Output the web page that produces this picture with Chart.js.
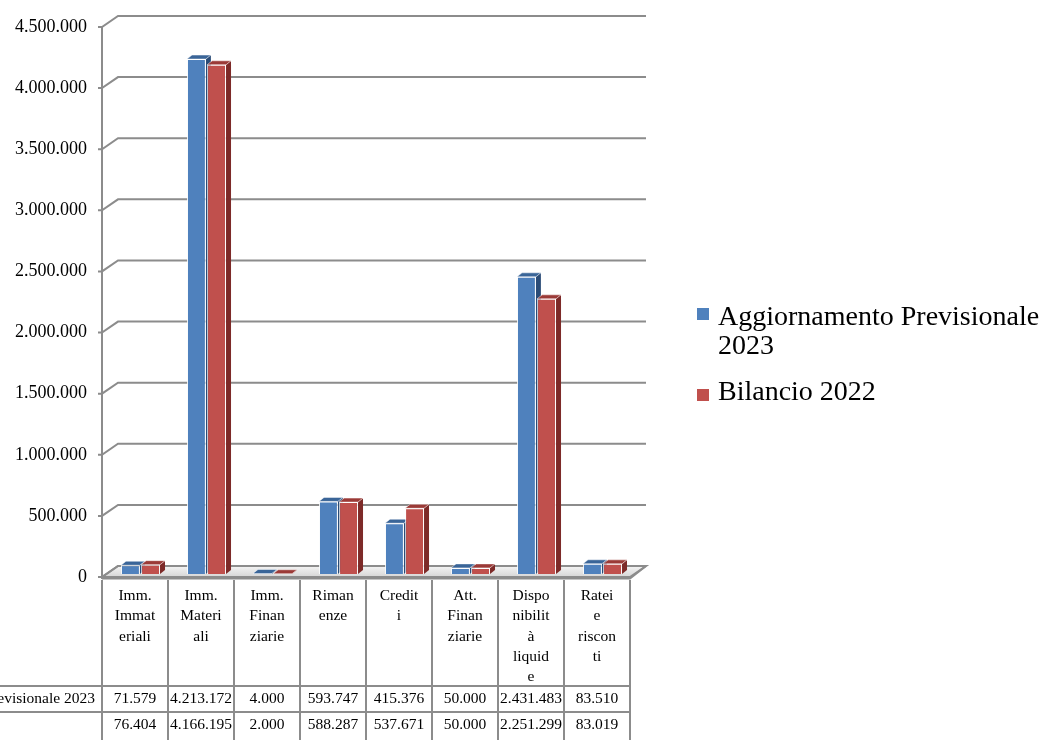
<!DOCTYPE html>
<html>
<head>
<meta charset="utf-8">
<script src="https://cdn.jsdelivr.net/npm/chart.js@4.4.1/dist/chart.umd.min.js"></script>
<style>
  html, body { margin: 0; padding: 0; background: #fff; }
  #wrap { width: 1061px; height: 740px; position: relative; }
</style>
</head>
<body>
<div id="wrap"><canvas id="myChart"></canvas></div>
<script>
// categories, as they are wrapped in the data table
var categories = [
  ['Imm.', 'Immat', 'eriali'],
  ['Imm.', 'Materi', 'ali'],
  ['Imm.', 'Finan', 'ziarie'],
  ['Riman', 'enze'],
  ['Credit', 'i'],
  ['Att.', 'Finan', 'ziarie'],
  ['Dispo', 'nibilit', 'à', 'liquid', 'e'],
  ['Ratei', 'e', 'riscon', 'ti']
];
var seriesNames = ['Aggiornamento Previsionale 2023', 'Bilancio 2022'];
var previsionale2023 = [71579, 4213172, 4000, 593747, 415376, 50000, 2431483, 83510];
var bilancio2022 = [76404, 4166195, 2000, 588287, 537671, 50000, 2251299, 83019];
var yTicks = [0, 500000, 1000000, 1500000, 2000000, 2500000, 3000000, 3500000, 4000000, 4500000];

var FONT = '"Liberation Serif", "Times New Roman", serif';
var GRID = '#8c8c8c';
var faces = [
  { front: '#4F81BD', top: '#3a6598', side: '#2b4c77' },
  { front: '#C0504D', top: '#9b3a37', side: '#7d2a28' }
];

function fmt(v) {
  return String(Math.round(v)).replace(/\B(?=(\d{3})+(?!\d))/g, '.');
}

// 3d frame: back wall gridlines, side diagonals, floor
var frame3d = {
  id: 'frame3d',
  beforeDatasetsDraw: function(chart) {
    var ctx = chart.ctx, a = chart.chartArea, ys = chart.scales.y;
    var dx = 16, dy = -11;
    ctx.save();
    ctx.strokeStyle = GRID;
    ctx.lineWidth = 2;
    // floor
    var y0 = ys.getPixelForValue(0);
    var g = ctx.createLinearGradient(0, y0 + dy, 0, y0);
    g.addColorStop(0, '#f4f4f4');
    g.addColorStop(1, '#d6d6d6');
    ctx.fillStyle = g;
    ctx.beginPath();
    ctx.moveTo(a.left, y0);
    ctx.lineTo(a.right, y0);
    ctx.lineTo(a.right + dx, y0 + dy);
    ctx.lineTo(a.left + dx, y0 + dy);
    ctx.closePath();
    ctx.fill();
    ctx.stroke();
    // gridlines
    yTicks.forEach(function(v) {
      var y = ys.getPixelForValue(v);
      ctx.beginPath();
      ctx.moveTo(a.left - 4, y);
      ctx.lineTo(a.left, y);
      ctx.lineTo(a.left + dx, y + dy);
      ctx.lineTo(a.right + dx, y + dy);
      ctx.stroke();
    });
    // front axis line
    ctx.beginPath();
    ctx.moveTo(a.left, ys.getPixelForValue(yTicks[yTicks.length - 1]));
    ctx.lineTo(a.left, y0 + 2);
    ctx.stroke();
    // thicker front edge of the floor
    ctx.beginPath();
    ctx.moveTo(a.left, y0 + 1.5);
    ctx.lineTo(a.right, y0 + 1.5);
    ctx.lineTo(a.right + dx, y0 + dy);
    ctx.stroke();
    ctx.restore();

    // bars sit a bit behind the front plane
    ctx.save();
    ctx.translate(5.5, -3);
    var bx = 5, by = -4;
    chart.data.datasets.forEach(function(ds, di) {
      var meta = chart.getDatasetMeta(di);
      meta.data.forEach(function(bar) {
        var p = bar.getProps(['x', 'y', 'base', 'width'], true);
        var x1 = p.x - p.width / 2, x2 = p.x + p.width / 2;
        ctx.fillStyle = faces[di].side;
        ctx.beginPath();
        ctx.moveTo(x2, p.y);
        ctx.lineTo(x2 + bx, p.y + by);
        ctx.lineTo(x2 + bx, p.base + by);
        ctx.lineTo(x2, p.base);
        ctx.closePath();
        ctx.fill();
        ctx.fillStyle = faces[di].top;
        ctx.beginPath();
        ctx.moveTo(x1, p.y);
        ctx.lineTo(x2, p.y);
        ctx.lineTo(x2 + bx, p.y + by);
        ctx.lineTo(x1 + bx, p.y + by);
        ctx.closePath();
        ctx.fill();
        ctx.strokeStyle = 'rgba(255,255,255,0.6)';
        ctx.lineWidth = 0.8;
        ctx.stroke();
      });
    });
  },
  afterDatasetsDraw: function(chart) {
    chart.ctx.restore();
  }
};

// data table under the chart
var dataTable = {
  id: 'dataTable',
  afterDraw: function(chart) {
    var ctx = chart.ctx, a = chart.chartArea, xs = chart.scales.x;
    var cw = a.width / categories.length;
    var top = 580, r1 = 686, r2 = 712;
    var rows = [previsionale2023, bilancio2022];
    ctx.save();
    ctx.strokeStyle = GRID;
    ctx.lineWidth = 2;
    for (var i = 0; i <= categories.length; i++) {
      var x = a.left + cw * i;
      ctx.beginPath();
      ctx.moveTo(x, top);
      ctx.lineTo(x, 740);
      ctx.stroke();
    }
    [r1, r2].forEach(function(y) {
      ctx.beginPath();
      ctx.moveTo(0, y);
      ctx.lineTo(a.right, y);
      ctx.stroke();
    });
    ctx.fillStyle = '#000';
    ctx.font = '15.5px ' + FONT;
    ctx.textAlign = 'center';
    ctx.textBaseline = 'middle';
    categories.forEach(function(lines, i) {
      var cx = xs.getPixelForValue(i);
      lines.forEach(function(t, k) {
        ctx.fillText(t, cx, 596 + k * 20.3);
      });
      ctx.fillText(fmt(rows[0][i]), cx, 699);
      ctx.fillText(fmt(rows[1][i]), cx, 725);
    });
    // series names, left part falls outside the picture
    ctx.textAlign = 'right';
    ctx.fillText(seriesNames[0], a.left - 7, 699);
    var start = a.left - 7 - ctx.measureText(seriesNames[0]).width;
    ctx.textAlign = 'left';
    ctx.fillText(seriesNames[1], start, 725);
    ctx.restore();
  }
};

// legend on the right, with word wrap
var sideLegend = {
  id: 'sideLegend',
  afterDraw: function(chart) {
    var ctx = chart.ctx;
    var lx = 697, tx = 718, maxW = 1061 - tx - 2;
    var base = 325, lh = 29;
    ctx.save();
    ctx.font = '28px ' + FONT;
    ctx.textBaseline = 'alphabetic';
    ctx.textAlign = 'left';
    chart.data.datasets.forEach(function(ds, di) {
      var words = ds.label.split(' '), lines = [], cur = '';
      words.forEach(function(w) {
        var t = cur ? cur + ' ' + w : w;
        if (ctx.measureText(t).width > maxW && cur) { lines.push(cur); cur = w; } else { cur = t; }
      });
      lines.push(cur);
      ctx.fillStyle = faces[di].front;
      ctx.fillRect(lx, base - (lines.length > 1 ? 17 : 11), 12, 12);
      ctx.fillStyle = '#000';
      lines.forEach(function(t, k) {
        ctx.fillText(t, tx, base + k * lh);
      });
      base += lines.length * lh + 17;
    });
    ctx.restore();
  }
};

document.addEventListener("DOMContentLoaded", function() {
  var canvas = document.getElementById('myChart');
  new Chart(canvas, {
    type: 'bar',
    data: {
      labels: categories,
      datasets: [{
        label: seriesNames[0],
        data: previsionale2023,
        backgroundColor: faces[0].front,
        borderColor: 'rgba(255,255,255,0.85)',
        borderWidth: 1
      }, {
        label: seriesNames[1],
        data: bilancio2022,
        backgroundColor: faces[1].front,
        borderColor: 'rgba(255,255,255,0.85)',
        borderWidth: 1
      }]
    },
    options: {
      responsive: true,
      maintainAspectRatio: false,
      animation: false,
      categoryPercentage: 0.61,
      barPercentage: 0.94,
      layout: { padding: { left: 0, right: 431, top: 27, bottom: 163 } },
      plugins: {
        legend: { display: false },
        tooltip: { enabled: false }
      },
      scales: {
        x: { display: false },
        y: {
          min: 0,
          max: 4500000,
          afterFit: function(s) { s.width = 102; },
          afterBuildTicks: function(s) { s.ticks = yTicks.map(function(v) { return { value: v }; }); },
          grid: { display: false, drawTicks: false },
          border: { display: false },
          ticks: {
            padding: 15,
            color: '#000',
            font: { family: FONT, size: 18 },
            callback: function(v) { return fmt(v); }
          }
        }
      }
    },
    plugins: [frame3d, dataTable, sideLegend]
  });
});
</script>
</body>
</html>
